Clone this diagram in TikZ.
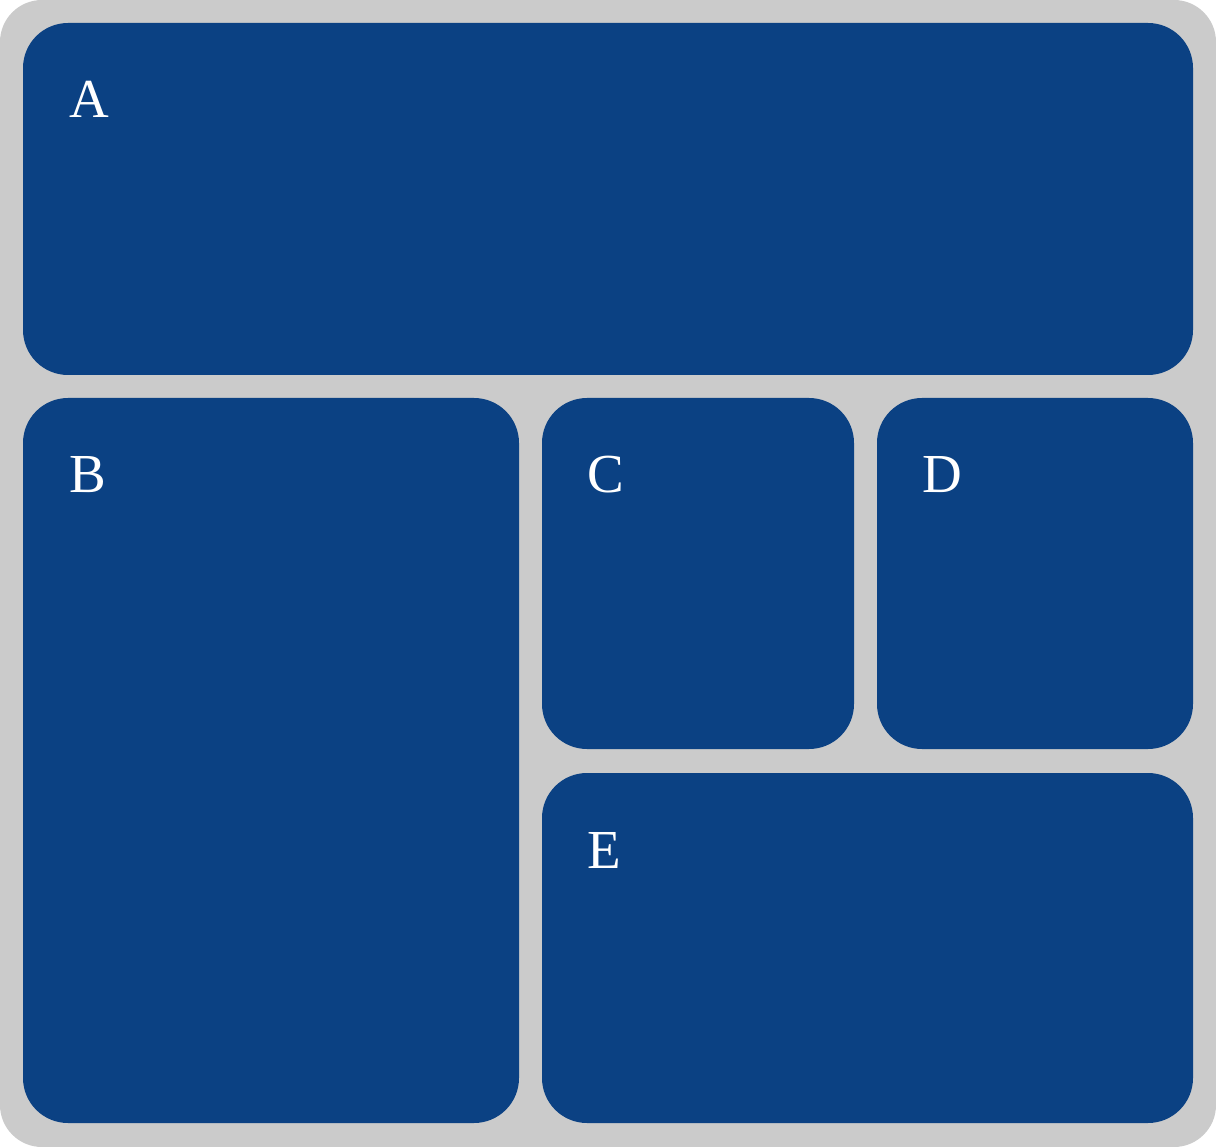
\documentclass[tikz,border=0pt]{standalone}
\usepackage{fontspec}
\setmainfont{Liberation Serif}
\definecolor{bgray}{HTML}{CBCBCB}
\definecolor{pblue}{HTML}{0B4183}
\begin{document}
\begin{tikzpicture}[x=1pt,y=-1pt,
  panel/.style={fill=pblue, draw=none, rounded corners=45pt},
  lab/.style={anchor=base west, inner sep=0pt, text=white, font=\fontsize{55}{60}\selectfont}]
\useasboundingbox (0,0) rectangle (1216,1147);
\fill[bgray, rounded corners=42pt] (0,0) rectangle (1216,1147);
\fill[panel] (23,23) rectangle (1193,375);
\fill[panel] (23,398) rectangle (519,1123);
\fill[panel] (542,398) rectangle (854,749);
\fill[panel] (877,398) rectangle (1193,749);
\fill[panel] (542,773) rectangle (1193,1123);
\node[lab] (A) at (69,118) {A};
\node[lab] (B) at (69,493) {B};
\node[lab] (C) at (587,493) {C};
\node[lab] (D) at (922,493) {D};
\node[lab] (E) at (587,868) {E};
\end{tikzpicture}
\end{document}
